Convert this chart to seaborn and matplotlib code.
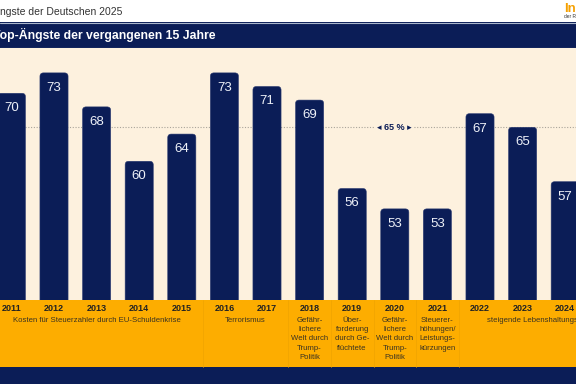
import matplotlib
matplotlib.use("Agg")
import matplotlib.pyplot as plt
import seaborn as sns
import pandas as pd
from matplotlib.patches import Rectangle, FancyBboxPatch
from matplotlib.transforms import blended_transform_factory

# values
years = ["2011", "2012", "2013", "2014", "2015", "2016", "2017",
         "2018", "2019", "2020", "2021", "2022", "2023", "2024"]
values = [70, 73, 68, 60, 64, 73, 71, 69, 56, 53, 53, 67, 65, 57]

# theme of the top fear, and how many years it covers (last one runs past the crop)
topic_labels = [
    "Kosten für Steuerzahler durch EU-Schuldenkrise",
    "Terrorismus",
    "Gefähr-\nlichere\nWelt durch\nTrump-\nPolitik",
    "Über-\nforderung\ndurch Ge-\nflüchtete",
    "Gefähr-\nlichere\nWelt durch\nTrump-\nPolitik",
    "Steuerer-\nhöhungen/\nLeistungs-\nkürzungen",
    "steigende Lebenshaltungskosten",
]
topic_years = [5, 2, 1, 1, 1, 1, 4]
reference_value = 65

NAVY = "#0b1d57"
ORANGE = "#fdad00"
CREAM = "#fdf1de"
TEXT = "#3b3322"

sns.set_style("white")
plt.rcParams["font.family"] = ["Liberation Sans", "DejaVu Sans"]

W, H = 576, 384
fig = plt.figure(figsize=(W / 100, H / 100), dpi=100)


def fy(py):
    return 1 - py / H


def band(y0, y1, color):
    fig.patches.append(Rectangle((0, fy(y1)), 1, (y1 - y0) / H, transform=fig.transFigure,
                                 facecolor=color, edgecolor="none", zorder=-10))


band(0, 22, "white")
band(22, 48, NAVY)
band(300, 367, ORANGE)
band(367, 384, NAVY)
for yy in (22.5, 47.5):
    fig.lines.append(plt.Line2D([0, 1], [fy(yy), fy(yy)], transform=fig.transFigure,
                                color="#aab6cc", lw=0.8, zorder=-9))

fig.text(-7 / W, fy(12), "Ängste der Deutschen 2025", fontsize=7.5, color="#333333", va="center")
fig.text(-7 / W, fy(35), "Top-Ängste der vergangenen 15 Jahre", fontsize=8.8,
         fontweight="bold", color="white", va="center")
fig.text(564 / W, fy(9), "Infocenter", fontsize=9.5, fontweight="bold", color="#f5a000", va="center")
fig.text(564 / W, fy(16.5), "der R+V Versicherung", fontsize=3.5, color="#333333", va="center")

ax = fig.add_axes([0, fy(300), 1, (300 - 48) / H])
ax.set_facecolor(CREAM)

df = pd.DataFrame({"year": years, "value": values})
sns.barplot(data=df, x="year", y="value", color=NAVY, width=0.66, saturation=1, ax=ax, zorder=3)

x0 = -11.4 / 42.6
ax.set_xlim(x0, x0 + W / 42.6)
ax.set_ylim(39.6, 39.6 + 252 / 6.8)

# round the bar tops like the slide
px_x = 42.6
px_y = 6.8
for p in list(ax.patches):
    x, y, w, h = p.get_x(), p.get_y(), p.get_width(), p.get_height()
    p.set_visible(False)
    r = 3.5 / px_x
    ax.add_patch(FancyBboxPatch((x, y), w, h, boxstyle=f"round,pad=0,rounding_size={r}",
                                mutation_aspect=px_x / px_y, facecolor=NAVY,
                                edgecolor="#2a3a70", lw=0.4, zorder=3))
    ax.text(x + w / 2, y + h - 15 / px_y, f"{int(round(h))}", ha="center", va="center",
            color="#eef1f8", fontsize=9.5, zorder=4)

# 65 % reference line
ax.axhline(reference_value, color="#a9a49a", lw=0.8, ls=(0, (1, 1.5)), zorder=1)
ax.text(9, reference_value, "◂ 65 % ▸", ha="center", va="center", fontsize=6.5,
        fontweight="bold", color=NAVY, zorder=2,
        bbox=dict(facecolor=CREAM, edgecolor="none", pad=1.5))

ax.set_xlabel("")
ax.set_ylabel("")
ax.set_yticks([])
ax.tick_params(axis="x", length=0, pad=3)
for lab in ax.get_xticklabels():
    lab.set_fontweight("bold")
    lab.set_fontsize(6.5)
    lab.set_color("#222222")
for s in ax.spines.values():
    s.set_visible(False)

# theme labels and separators in the orange band
tr = blended_transform_factory(ax.transData, fig.transFigure)
start = 0
for lab, n in zip(topic_labels, topic_years):
    center = start + (n - 1) / 2
    ax.text(center, fy(317), lab, transform=tr, ha="center", va="top", fontsize=5.6,
            color=TEXT, linespacing=1.45, clip_on=False)
    if start > 0:
        ax.plot([start - 0.5, start - 0.5], [fy(300), fy(367)], transform=tr,
                color="#f0a400", lw=0.5, clip_on=False)
    start += n

fig.savefig("out.png", dpi=100)
